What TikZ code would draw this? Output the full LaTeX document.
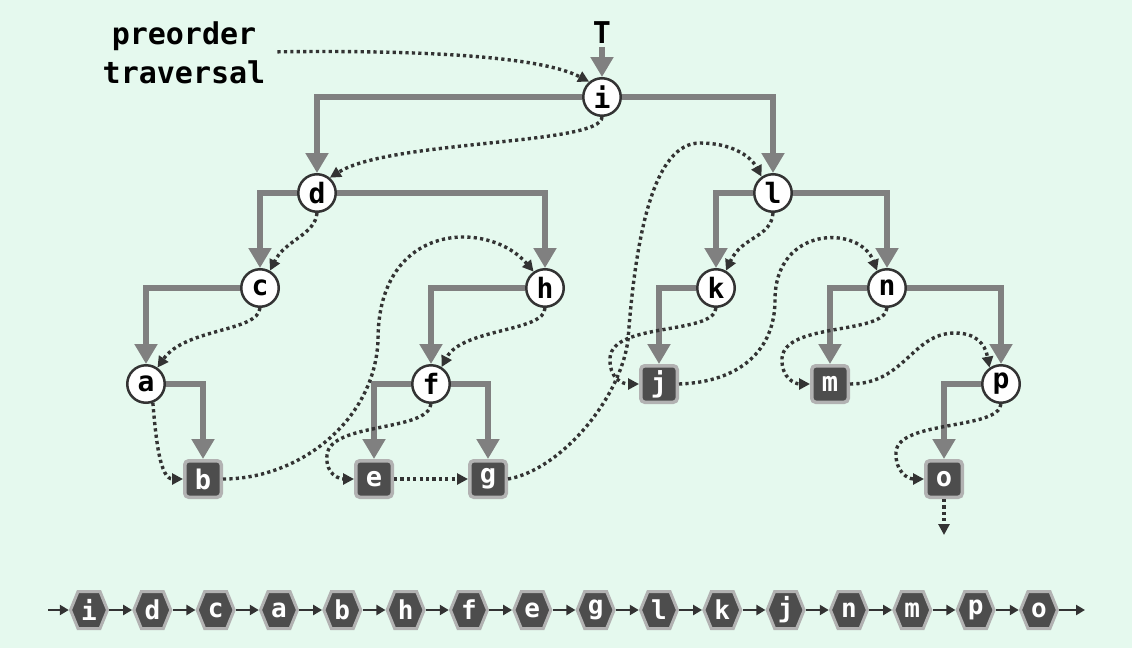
\documentclass[tikz,border=0pt]{standalone}
\usepackage{fontspec}
\newfontfamily\dmono{DejaVu Sans Mono}
\usetikzlibrary{arrows.meta}
\definecolor{bgc}{RGB}{229,249,238}
\definecolor{edgec}{RGB}{128,128,128}
\definecolor{darkc}{RGB}{51,51,51}
\definecolor{leafc}{RGB}{77,77,77}
\definecolor{leafb}{RGB}{178,178,178}
\begin{document}
\begin{tikzpicture}[x=1pt,y=-1pt,
  inode/.style={circle,draw=darkc,line width=2.5pt,fill=white,minimum size=37.5pt,inner sep=0pt,
    font=\dmono\bfseries\fontsize{28}{28}\selectfont,text=black},
  leaf/.style={rectangle,rounded corners=4pt,draw=leafb,line width=3.5pt,fill=leafc,minimum size=36.5pt,inner sep=0pt,
    font=\dmono\bfseries\fontsize{27}{27}\selectfont,text=white},
  tedge/.style={draw=edgec,line width=6.5pt,-{Triangle[width=22pt,length=20pt]}},
  thread/.style={draw=darkc,line width=3.4pt,dash pattern=on 3.2pt off 3.2pt,-{Triangle[width=11pt,length=11pt]}},
  hexs/.style={fill=leafc,draw=leafb,line width=3pt,line join=miter},
  lnode/.style={rectangle,minimum width=40pt,minimum height=40pt,inner sep=0pt,text=white,
    font=\dmono\bfseries\fontsize{26}{26}\selectfont},
  larrow/.style={draw=darkc,line width=2.5pt,-{Triangle[width=10pt,length=9pt]}},
  lbltext/.style={font=\dmono\bfseries\fontsize{30}{39}\selectfont,align=center,inner xsep=12pt,inner ysep=0pt}
]
\fill[bgc] (0,0) rectangle (1132,648);
\useasboundingbox (0,0) rectangle (1132,648);

% label and root
\node[lbltext] (lbl) at (184,53) {preorder\\traversal};
\node[font=\dmono\bfseries\fontsize{30}{30}\selectfont,anchor=base,inner sep=4pt] (T) at (602,43) {T};

% tree nodes
\node[inode] (i) at (602,97) {i};
\node[inode] (d) at (317,193) {d};
\node[inode] (l) at (773,193) {l};
\node[inode] (c) at (260,288) {c};
\node[inode] (h) at (545,288) {h};
\node[inode] (k) at (716,288) {k};
\node[inode] (n) at (887,288) {n};
\node[inode] (a) at (146,384) {a};
\node[inode] (f) at (431,384) {f};
\node[leaf] (j) at (659,384) {j};
\node[leaf] (m) at (830,384) {m};
\node[inode] (p) at (1001,384) {p};
\node[leaf] (b) at (203,479) {b};
\node[leaf] (e) at (374,479) {e};
\node[leaf] (g) at (488,479) {g};
\node[leaf] (o) at (944,479) {o};

% tree edges
\draw[tedge] (T) -- (i);
\draw[tedge] (i) -| (d);
\draw[tedge] (i) -| (l);
\draw[tedge] (d) -| (c);
\draw[tedge] (d) -| (h);
\draw[tedge] (c) -| (a);
\draw[tedge] (h) -| (f);
\draw[tedge] (l) -| (k);
\draw[tedge] (l) -| (n);
\draw[tedge] (k) -| (j);
\draw[tedge] (n) -| (m);
\draw[tedge] (n) -| (p);
\draw[tedge] (a) -| (b);
\draw[tedge] (f) -| (e);
\draw[tedge] (f) -| (g);
\draw[tedge] (p) -| (o);

% threads
\coordinate (oend) at (944,535);
\draw[thread] (lbl) .. controls (420,50) and (540,56) .. (i.130);
\draw[thread] (i.south) .. controls (602,145) and (390,140) .. (d.50);
\draw[thread] (d.south) .. controls (315,235) and (285,240) .. (c.60);
\draw[thread] (c.south) .. controls (258,332) and (185,328) .. (a.55);
\draw[thread] (a.-70) .. controls (156,440) and (160,479) .. (b.west);
\draw[thread] (b.east) .. controls (300,479) and (375,420) .. (378,340) .. controls (378,220) and (490,220) .. (h.125);
\draw[thread] (h.south) .. controls (545,332) and (462,328) .. (f.58);
\draw[thread] (f.south) .. controls (428,432) and (330,422) .. (327,455) .. controls (325,475) and (340,479) .. (e.west);
\draw[thread] (e) -- (g);
\draw[thread] (g.east) .. controls (560,470) and (620,400) .. (628,340) .. controls (636,230) and (655,143) .. (700,143) .. controls (730,143) and (750,155) .. (l.125);
\draw[thread] (l.south) .. controls (771,238) and (742,236) .. (k.60);
\draw[thread] (k.south) .. controls (714,335) and (612,322) .. (610,358) .. controls (609,378) and (622,384) .. (j.west);
\draw[thread] (j.east) .. controls (740,382) and (775,350) .. (775,300) .. controls (775,225) and (860,225) .. (n.120);
\draw[thread] (n.south) .. controls (885,335) and (785,322) .. (782,358) .. controls (781,378) and (795,384) .. (m.west);
\draw[thread] (m.east) .. controls (905,384) and (912,333) .. (955,333) .. controls (975,333) and (985,343) .. (p.125);
\draw[thread] (p.south) .. controls (999,430) and (898,420) .. (896,452) .. controls (895,472) and (908,479) .. (o.west);
\draw[thread] (o) -- (oend);

% preorder list
\foreach \t [count=\k from 0] in {i,d,c,a,b,h,f,e,g,l,k,j,n,m,p,o} {
  \pgfmathsetmacro\xx{89+63.33*\k}
  \filldraw[hexs] (\xx-18.5,610) -- (\xx-11,591.5) -- (\xx+11,591.5) -- (\xx+18.5,610) -- (\xx+11,628.5) -- (\xx-11,628.5) -- cycle;
  \node[lnode] (L\t) at (\xx,610) {\t};
}
\coordinate (Lstart) at (48,610);
\coordinate (Lend) at (1085,610);
\draw[larrow] (Lstart) -- (Li);
\foreach \u/\v in {i/d,d/c,c/a,a/b,b/h,h/f,f/e,e/g,g/l,l/k,k/j,j/n,n/m,m/p,p/o}
  \draw[larrow] (L\u) -- (L\v);
\draw[larrow] (Lo) -- (Lend);
\end{tikzpicture}
\end{document}
